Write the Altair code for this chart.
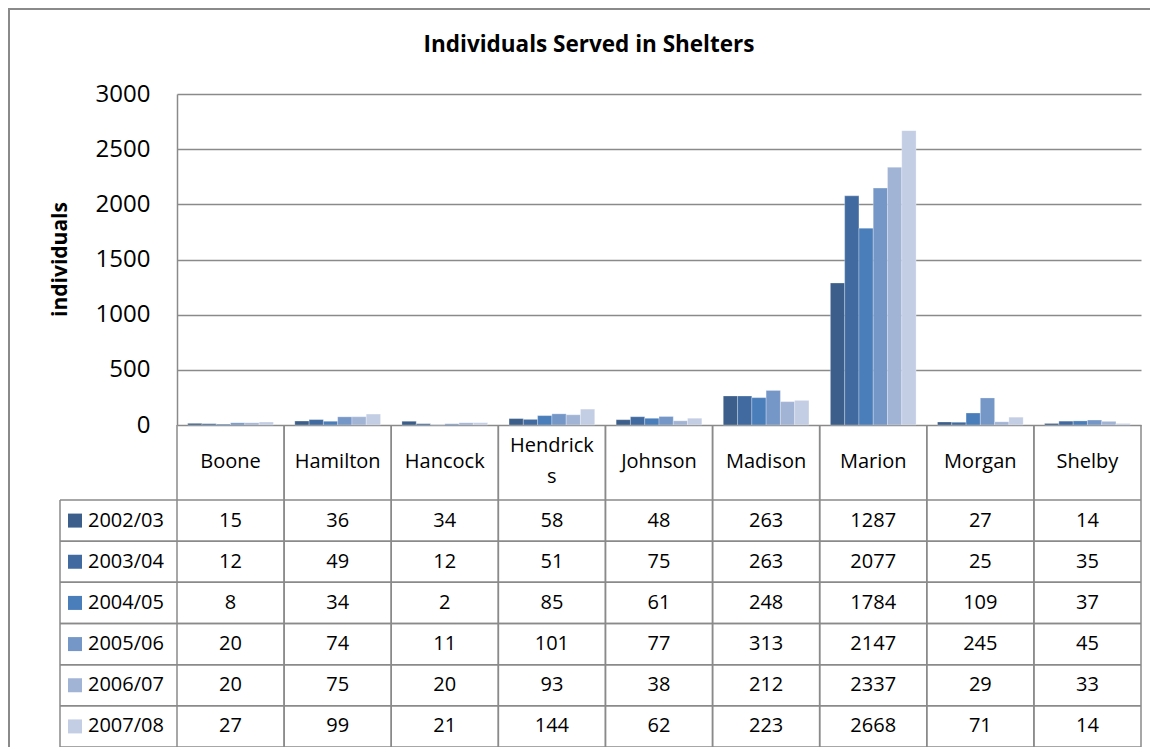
import altair as alt
import pandas as pd

# ---- data ----
counties = ["Boone", "Hamilton", "Hancock", "Hendricks", "Johnson",
            "Madison", "Marion", "Morgan", "Shelby"]
header_labels = ["Boone", "Hamilton", "Hancock", "Hendrick\ns", "Johnson",
                 "Madison", "Marion", "Morgan", "Shelby"]
seasons = ["2002/03", "2003/04", "2004/05", "2005/06", "2006/07", "2007/08"]

v_2002_03 = [15, 36, 34, 58, 48, 263, 1287, 27, 14]
v_2003_04 = [12, 49, 12, 51, 75, 263, 2077, 25, 35]
v_2004_05 = [8, 34, 2, 85, 61, 248, 1784, 109, 37]
v_2005_06 = [20, 74, 11, 101, 77, 313, 2147, 245, 45]
v_2006_07 = [20, 75, 20, 93, 38, 212, 2337, 29, 33]
v_2007_08 = [27, 99, 21, 144, 62, 223, 2668, 71, 14]

y_ticks = [0, 500, 1000, 1500, 2000, 2500, 3000]
colors = ["#3B5E8A", "#416BA0", "#4A7EBB", "#7597C8", "#A2B4D6", "#C3CEE4"]

title_text = "Individuals Served in Shelters"
y_title = "individuals"

# ---- tables built from the lists ----
series = [v_2002_03, v_2003_04, v_2004_05, v_2005_06, v_2006_07, v_2007_08]
rows = []
for s, vals in zip(seasons, series):
    for c, v in zip(counties, vals):
        rows.append({"season": s, "county": c, "value": v})
df = pd.DataFrame(rows)
county_df = pd.DataFrame({"county": counties, "label": header_labels})
county_df["multi"] = county_df["label"].str.contains("\n")
season_df = pd.DataFrame({"season": seasons})
one = pd.DataFrame({"k": [0]})

# ---- layout (pixels, relative to the plot origin) ----
W = 964          # plot / table width
H = 653          # plot + table height
BAR_H = 331      # bar area height
ROW_TOP = 406    # first table data row
LEG_X = -117     # left edge of legend column
HEAD_Y = 368     # centre of the header row
FONT = "Open Sans"
LINE = "#8a8a8a"

x_scale = alt.Scale(domain=counties, paddingInner=0, paddingOuter=0)
row_scale = alt.Scale(domain=seasons, range=[ROW_TOP, H], paddingInner=0, paddingOuter=0)
color_scale = alt.Scale(domain=seasons, range=colors)

bars = alt.Chart(df).mark_bar(stroke="white", strokeWidth=0.8, strokeOpacity=0.35).encode(
    x=alt.X("county:N", sort=counties, scale=x_scale, axis=None),
    xOffset=alt.XOffset("season:N", sort=seasons,
                        scale=alt.Scale(domain=seasons, paddingInner=0, paddingOuter=0.75)),
    y=alt.Y("value:Q",
            scale=alt.Scale(domain=[0, 3000], range=[BAR_H, 0], nice=False),
            axis=alt.Axis(values=y_ticks, format="d", title=y_title, ticks=False, tickSize=0,
                          labelFont=FONT, labelFontSize=24, labelColor="#000000",
                          labelPadding=27, domainColor=LINE, domainWidth=1.5,
                          gridColor=LINE, gridWidth=1.5,
                          titleFont=FONT, titleFontSize=21, titleFontWeight="bold",
                          titleColor="#000000", titleX=-117, titleY=165,
                          titleAngle=270, titleAlign="center", titleBaseline="middle")),
    color=alt.Color("season:N", scale=color_scale, legend=None),
)

cells = alt.Chart(df).mark_text(font=FONT, fontSize=20, color="#000000").encode(
    x=alt.X("county:N", scale=x_scale, axis=None),
    y=alt.Y("season:N", scale=row_scale, axis=None),
    text=alt.Text("value:Q"),
)

leg_text = alt.Chart(season_df).mark_text(font=FONT, fontSize=20, color="#000000",
                                          align="left").encode(
    x=alt.value(LEG_X + 28),
    y=alt.Y("season:N", scale=row_scale, axis=None),
    text="season:N",
)

leg_sq = alt.Chart(season_df).mark_square(size=196, opacity=1).encode(
    x=alt.value(LEG_X + 15),
    y=alt.Y("season:N", scale=row_scale, axis=None),
    color=alt.Color("season:N", scale=color_scale, legend=None),
)

header_single = alt.Chart(county_df).transform_filter(
    "!datum.multi"
).mark_text(font=FONT, fontSize=20, color="#000000", baseline="middle").encode(
    x=alt.X("county:N", scale=x_scale, axis=None),
    y=alt.value(HEAD_Y),
    text="label:N",
)

header_multi = alt.Chart(county_df).transform_filter(
    "datum.multi"
).mark_text(font=FONT, fontSize=20, color="#000000", baseline="middle",
            lineBreak="\n", lineHeight=31).encode(
    x=alt.X("county:N", scale=x_scale, axis=None),
    y=alt.value(HEAD_Y - 16),
    text="label:N",
)

h_rules_top = alt.Chart(season_df).mark_rule(color=LINE, strokeWidth=1.5).encode(
    y=alt.Y("season:N", scale=row_scale, axis=None, bandPosition=0),
    x=alt.value(LEG_X), x2=alt.value(W),
)
h_rules_bot = alt.Chart(season_df).mark_rule(color=LINE, strokeWidth=1.5).encode(
    y=alt.Y("season:N", scale=row_scale, axis=None, bandPosition=1),
    x=alt.value(LEG_X), x2=alt.value(W),
)

v_rules_l = alt.Chart(county_df).mark_rule(color=LINE, strokeWidth=1.5).encode(
    x=alt.X("county:N", scale=x_scale, axis=None, bandPosition=0),
    y=alt.value(BAR_H), y2=alt.value(H),
)
v_rules_r = alt.Chart(county_df).mark_rule(color=LINE, strokeWidth=1.5).encode(
    x=alt.X("county:N", scale=x_scale, axis=None, bandPosition=1),
    y=alt.value(BAR_H), y2=alt.value(H),
)

leg_edge = alt.Chart(one).mark_rule(color=LINE, strokeWidth=1.5).encode(
    x=alt.value(LEG_X), y=alt.value(ROW_TOP), y2=alt.value(H),
)

frame_top = alt.Chart(one).mark_rule(color=LINE, strokeWidth=2).encode(
    x=alt.value(-169), x2=alt.value(W + 20), y=alt.value(-85),
)
frame_left = alt.Chart(one).mark_rule(color=LINE, strokeWidth=2).encode(
    x=alt.value(-168), y=alt.value(-86), y2=alt.value(H + 8),
)

title = alt.Chart(pd.DataFrame({"t": [title_text]})).mark_text(
    font=FONT, fontSize=22.5, fontWeight="bold", color="#000000",
    align="center", baseline="alphabetic").encode(
    x=alt.value(412), y=alt.value(-42), text="t:N",
)

chart = alt.layer(
    bars, v_rules_l, v_rules_r, h_rules_top, h_rules_bot, leg_edge,
    cells, leg_text, leg_sq, header_single, header_multi,
    frame_top, frame_left, title,
).resolve_scale(y="independent").properties(
    width=W, height=H,
    padding={"left": 169, "top": 86, "right": 9, "bottom": 0},
    autosize=alt.AutoSizeParams(type="none"),
    background="white",
).configure_view(strokeWidth=0)

chart.save("out.html", embed_options={"renderer": "svg", "actions": False})
